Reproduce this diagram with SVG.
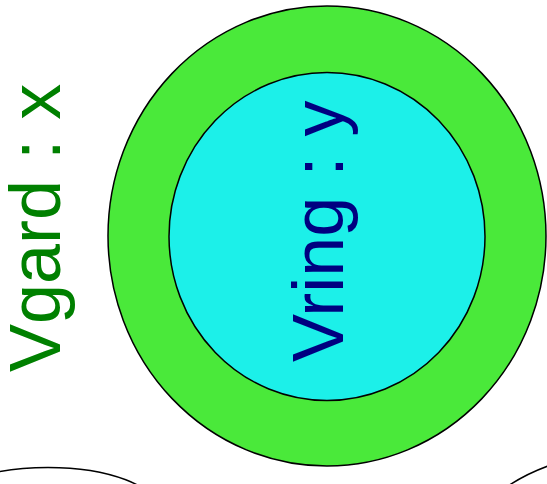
<svg xmlns="http://www.w3.org/2000/svg" width="547" height="484" viewBox="0 0 547 484">
<style>
.sh{stroke:#000;stroke-width:1.5}
.lbl{font-family:"Liberation Sans",Arial,sans-serif;font-size:72px}
</style>
<rect width="547" height="484" fill="#fff"/>
<g id="vgard">
<ellipse class="sh" cx="327" cy="236" rx="219" ry="230" fill="#4ae93a"/>
<text class="lbl" fill="#008000" transform="translate(60,372) rotate(-90)">Vgard : x</text>
</g>
<g id="vring">
<ellipse class="sh" cx="327" cy="236.5" rx="158" ry="164" fill="#1cf0e9"/>
<text class="lbl" fill="#000080" transform="translate(343,362) rotate(-90)">Vring : y</text>
</g>
<g id="other-left">
<ellipse class="sh" cx="48" cy="509.5" rx="110" ry="42" fill="none"/>
</g>
<g id="other-right">
<path class="sh" d="M508 486 Q526 474 548 466" fill="none"/>
</g>
</svg>
